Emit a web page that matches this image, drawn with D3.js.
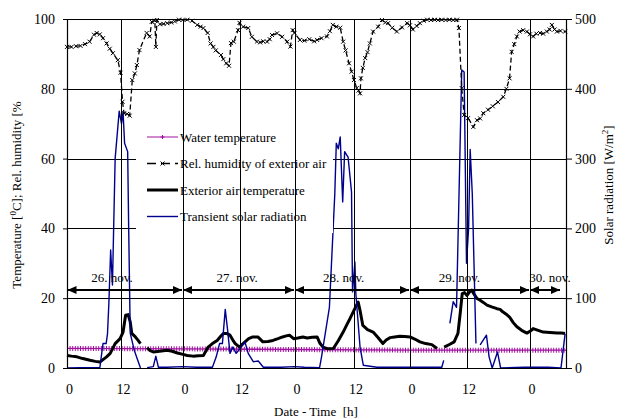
<!DOCTYPE html>
<html>
<head>
<meta charset="utf-8">
<script src="https://cdn.jsdelivr.net/npm/d3@7/dist/d3.min.js"></script>
<style>
  body { margin: 0; background: #fff; }
  svg { display: block; font-family: "Liberation Serif", "Times New Roman", serif; }
</style>
</head>
<body>
<svg class="canvas" width="629" height="419"></svg>
<script>
// ---- data (hours since 26 Nov 00:00) ----
var hourTicks = [0, 12, 24, 36, 48, 60, 72, 84, 96];
var dayNames = ["26. nov.", "27. nov.", "28. nov.", "29. nov.", "30. nov."];
var dayStart = [0, 24, 48, 72, 96];
var dayEnd = [24, 48, 72, 96, 102.8];
var dayLabelAt = [10, 35.5, 58, 82.5, 100.5];
var leftTicks = [0, 20, 40, 60, 80, 100];
var rightTicks = [0, 100, 200, 300, 400, 500];

var waterHours = [0, 24, 48, 72, 96, 104];
var waterTemp  = [5.6, 5.5, 5.3, 5.1, 5.1, 5.1];

var rhHours = [0,1,2,3,4,5,6,6.6,7.3,8,8.8,9.5,10.2,11.3,11.9,12.3,12.6,13.2,13.7,14.2,14.7,15.1,15.6,17,17.6,18,18.6,18.8,19,19.6,20.3,21,21.8,22.5,23.3,
  24,25,26,27.1,27.8,28.4,29.3,29.9,30.5,31,32.1,32.6,33.2,33.8,34.2,34.8,35.7,36,36.8,37.9,38.7,39.8,40.5,41.2,42,42.6,43.1,44.2,45.3,46.4,47.1,47.6,
  48,49.1,50,51,52,52.6,53.5,54.6,55.2,55.8,56.5,57.3,57.9,58.4,59.1,59.6,60.1,60.7,61.1,61.4,61.6,62,62.5,63,63.5,64.2,65.3,66.1,66.8,67.4,68.3,69.3,70.4,71.5,
  72.1,72.7,73.5,74.2,75,75.7,76.5,77.3,78,78.8,79.6,80.4,81.2,82,82.4,83,83.5,84.3,85.3,86,86.6,87.2,88.1,89,90,91,91.6,92.2,92.6,93.1,93.6,94.1,94.8,95.5,
  96.1,96.8,97.5,98.3,99,99.8,100.4,100.9,101.5,102,102.8,103.8];
var rhValues = [92,92,92.2,92.3,92.8,93.5,95.5,96,95.6,94.5,93,91.5,90.2,88.2,84.6,76.3,73,72.8,72.3,82.5,84.4,86.8,91.1,96,95,99.2,99.5,92,99.7,98.5,98.6,98.8,99,99.3,99.8,
  99.7,99.8,99.5,98.3,97.8,97.4,96,93,92,91,89.7,88.5,87.3,86.6,93.1,93.5,96.8,98.9,97.8,97.4,94.9,93.5,93.3,93.6,93.5,94.2,95.4,95.9,94.9,93.5,92.1,96.8,
  96,94,93.8,94.2,93.6,94,94.5,95,96.5,98.3,97.8,97.5,93.5,91,87.3,84.9,82.5,80.2,79.5,78.7,83,86,88.8,90.5,93,96.4,97.8,99.7,99,98.8,97.5,96.4,97.6,98.8,
  98.2,97,98,98.8,99.5,99.8,99.7,99.8,99.7,99.8,99.7,99.8,99.7,99.8,97.4,80.2,72.5,71.6,69.1,71,71.5,73,74,75,76.2,77.7,80,83,90.6,92.8,95,96.4,96.8,96.4,
  95.6,95,95.8,96,95.8,96.4,97,98.3,97,96.4,96.6,96.4];

var airHours = [0,1,2.2,3.5,5.1,6.3,7.3,8,8.8,9.6,10.7,11.8,12.4,12.9,13.4,13.8,14.1,14.8,15.3,15.8,16.5,17.1,17.7,18.3,19.5,21,22,23,
  24.1,25,26.2,27.3,28.4,29.4,30.3,31.3,32,32.6,33.3,34,34.6,35.1,36,36.6,37.2,38,38.9,40,41.1,42.2,43.3,44.4,45.4,46.2,46.9,47.8,
  48.7,49.7,50.6,51.6,52.6,53.2,53.8,54.8,55.9,56.9,57.9,58.6,59.3,60.1,61,61.4,62,63,64.2,65.2,66.3,67,67.8,68.8,69.9,71,
  72.1,73.1,74.2,75.4,76.7,77.8,78.5,79.3,80.5,81.4,82.2,82.7,83.1,83.6,84.1,84.6,85,85.5,86,86.6,87.2,87.9,88.8,89.8,90.4,90.9,91.5,92.2,92.9,93.6,94.5,95.5,
  96.2,96.8,97.9,99,100.5,102.1,103,103.8];
var airTemp = [3.6,3.4,3.2,2.7,2.2,1.9,1.7,2.4,3.2,4.2,7,8.4,10.3,15.1,15.3,13.2,9.9,8.9,8,7,null,5.8,5,4.6,4.8,5.1,4.8,4.3,
  3.9,3.6,3.4,3.5,3.6,6,7,7.9,9,9.9,9.9,9.4,8,7,6,6.8,7.5,8.4,8.9,8.9,7.5,7.6,7.9,8.4,8.9,9.2,9.4,8.4,
  8.6,8.9,8.6,8.8,8.9,7,6,5.5,5.6,7.8,10.3,12.3,14.2,16.5,18.9,16.5,12.2,11,10.3,8.8,7,8,8.7,8.9,9.1,9,
  8.9,8.3,7.5,7,6.7,5.6,null,6,6.8,7.5,9.9,16,21.3,21.6,20.8,21.8,22.3,21,19.9,19.4,18.8,18,17.5,17,16.8,16.1,15.5,14.6,13,11.8,10.8,10,
  10.6,11.3,10.8,10.3,10.2,10,10,9.9];

var solarHours = [0,3,6,7.3,8,8.7,9,9.3,9.7,10.1,10.7,11.6,12.1,12.4,12.7,13.3,13.5,13.8,14.6,15.8,16.5,17.1,18.3,18.8,19.3,21,24,27,
  30.3,31.1,31.8,32.4,33,33.5,34,34.6,35.3,36.1,37.2,37.9,39,40.1,41.2,45,48,50,53.1,53.5,55.1,56.2,56.5,56.9,57.3,57.8,58.2,58.9,59.6,59.8,60.3,60.5,61.4,62.1,
  65,70,75,78.8,79.2,79.8,80.5,81.2,81.9,83,83.5,84,84.4,84.7,85.1,85.8,86.2,86.6,87.8,88.3,88.9,89.9,90.5,95,100,102.9,103.8];
var solarValues = [0,0.5,0.5,0.5,35,35,49,92,169,119,300,368,350,367,322,310,200,50,25,0,null,0.5,2,17,1,1,2,1,
  1,16,35,35,84,54,21,30,21,28,37,21,9,10,1,1,2,1,0.5,16,87,250,322,314,331,238,310,302,252,109,152,107,30,4,
  1,1,1,1,11,null,64,95,87,427,424,150,200,313,250,35,null,33,47,16,0,23,0,1,1,0,49];

// ---- layout ----
var plotTop = 19, plotBottom = 368;
var gridPx = [67, 121, 182.5, 239.5, 294.5, 353.5, 409.5, 466.5, 529.5, 566];

var svg = d3.select(".canvas");

var x = d3.scaleLinear()
  .domain(hourTicks.concat([104]))
  .range(gridPx);
var y = d3.scaleLinear().domain([0, 100]).range([plotBottom, plotTop]);
var yR = d3.scaleLinear().domain([0, 500]).range([plotBottom, plotTop]);

var toPts = (hs, vs) => hs.map((h, i) => ({h: h, v: vs[i]}));

// horizontal grid lines
svg.append("g").selectAll("line")
  .data(leftTicks.slice(1))
  .enter().append("line")
    .attr("x1", x(0)).attr("x2", x(104))
    .attr("y1", d => Math.round(y(d)) + 0.5).attr("y2", d => Math.round(y(d)) + 0.5)
    .attr("stroke", "#000").attr("stroke-width", 1);

// series
var lineL = d3.line().defined(d => d.v != null).x(d => x(d.h)).y(d => y(d.v));
var lineR = d3.line().defined(d => d.v != null).x(d => x(d.h)).y(d => yR(d.v));

var water = toPts(waterHours, waterTemp);
svg.append("path").datum(water).attr("d", lineL)
  .attr("fill", "none").attr("stroke", "#a0109f").attr("stroke-width", 1.3);
svg.append("path").datum(water).attr("d", lineL)
  .attr("fill", "none").attr("stroke", "#a0109f").attr("stroke-width", 5)
  .attr("stroke-dasharray", "1,1.6");

svg.append("path").datum(toPts(airHours, airTemp)).attr("d", lineL)
  .attr("fill", "none").attr("stroke", "#000").attr("stroke-width", 3)
  .attr("stroke-linejoin", "round");

svg.append("path").datum(toPts(solarHours, solarValues)).attr("d", lineR)
  .attr("fill", "none").attr("stroke", "#00008f").attr("stroke-width", 1.4)
  .attr("stroke-linejoin", "round");

var rh = toPts(rhHours, rhValues);
svg.append("path").datum(rh).attr("d", lineL)
  .attr("fill", "none").attr("stroke", "#000").attr("stroke-width", 1.3)
  .attr("stroke-dasharray", "5,3");
var cross = "M-2,-2L2,2M-2,2L2,-2";
svg.append("g").selectAll("path")
  .data(rh)
  .enter().append("path")
    .attr("transform", d => "translate(" + x(d.h) + "," + y(d.v) + ")")
    .attr("d", cross)
    .attr("stroke", "#000").attr("stroke-width", 1);

// legend
var legX = 136, legY = 122;
var leg = svg.append("g");
leg.append("rect").attr("x", legX).attr("y", legY).attr("width", 197).attr("height", 111).attr("fill", "#fff");
var legItems = ["Water temperature", "Rel. humidity of exterior air", "Exterior air temperature", "Transient solar radiation"];
legItems.forEach((t, i) => {
  var cy = legY + 15 + i * 26.5;
  var g = leg.append("g");
  var ln = g.append("line").attr("x1", legX + 11).attr("x2", legX + 42).attr("y1", cy).attr("y2", cy);
  if (i == 0) {
    ln.attr("stroke", "#a0109f").attr("stroke-width", 1);
    g.append("path").attr("d", "M-2,0L2,0M0,-2L0,2").attr("transform", "translate(" + (legX + 26.5) + "," + cy + ")")
      .attr("stroke", "#a0109f").attr("stroke-width", 1);
  } else if (i == 1) {
    ln.attr("stroke", "#000").attr("stroke-width", 1.5).attr("stroke-dasharray", "9,5");
    g.append("path").attr("d", cross).attr("transform", "translate(" + (legX + 26.5) + "," + cy + ")")
      .attr("stroke", "#000").attr("stroke-width", 1);
  } else if (i == 2) {
    ln.attr("stroke", "#000").attr("stroke-width", 3);
  } else {
    ln.attr("stroke", "#00008f").attr("stroke-width", 1.4);
  }
  g.append("text").attr("x", legX + 44).attr("y", cy).attr("dy", "0.35em")
    .attr("font-size", 13).text(t);
});

// vertical day/time lines
svg.append("g").selectAll("line")
  .data(hourTicks.slice(1))
  .enter().append("line")
    .attr("x1", d => Math.round(x(d)) + 0.5).attr("x2", d => Math.round(x(d)) + 0.5)
    .attr("y1", y(100)).attr("y2", y(0))
    .attr("stroke", "#000").attr("stroke-width", 1);

// day arrows
svg.append("defs").append("marker")
  .attr("id", "arr").attr("viewBox", "0 0 10 10").attr("refX", 10).attr("refY", 5)
  .attr("markerWidth", 9).attr("markerHeight", 8).attr("markerUnits", "userSpaceOnUse")
  .attr("preserveAspectRatio", "none").attr("orient", "auto-start-reverse")
  .append("path").attr("d", "M0,0L10,5L0,10Z").attr("fill", "#000");

var arrowY = 290;
svg.append("g").selectAll("line")
  .data(dayStart)
  .enter().append("line")
    .attr("x1", d => x(d) + 0.5).attr("x2", (d, i) => x(dayEnd[i]) - 0.5)
    .attr("y1", arrowY).attr("y2", arrowY)
    .attr("stroke", "#000").attr("stroke-width", 2)
    .attr("marker-start", "url(#arr)").attr("marker-end", "url(#arr)");

svg.append("g").selectAll("text")
  .data(dayNames)
  .enter().append("text")
    .attr("x", (d, i) => x(dayLabelAt[i]))
    .attr("y", arrowY - 8)
    .attr("text-anchor", "middle").attr("font-size", 13)
    .text(d => d);

// axes
var axL = svg.append("g").attr("transform", "translate(" + x(0) + ",0)")
  .call(d3.axisLeft(y).tickValues(leftTicks).tickSize(4).tickPadding(8).tickSizeOuter(0));
var axR = svg.append("g").attr("transform", "translate(" + x(104) + ",0)")
  .call(d3.axisRight(yR).tickValues(rightTicks).tickSize(6).tickPadding(3).tickSizeOuter(0));
var axB = svg.append("g").attr("transform", "translate(0," + plotBottom + ")")
  .call(d3.axisBottom(x).tickValues(hourTicks).tickSize(0).tickPadding(16).tickSizeOuter(0)
    .tickFormat(d => d % 24));
[axL, axR, axB].forEach(a => {
  a.selectAll("text").attr("font-family", "Liberation Serif").attr("font-size", 14).attr("fill", "#000");
  a.select(".domain").attr("stroke", "#000").attr("stroke-width", 1.2);
  a.selectAll(".tick line").attr("stroke", "#000");
});
axB.selectAll("text").attr("dx", 2);

// axis titles
var tl = svg.append("text").attr("transform", "translate(21,195) rotate(-90)")
  .attr("text-anchor", "middle").attr("font-size", 13);
tl.append("tspan").text("Temperature [");
tl.append("tspan").attr("dy", -5).attr("font-size", 9).text("0");
tl.append("tspan").attr("dy", 5).text("C]; Rel. humidity [%");

var tr = svg.append("text").attr("transform", "translate(613,185) rotate(-90)")
  .attr("text-anchor", "middle").attr("font-size", 13);
tr.append("tspan").text("Solar radiation [W/m");
tr.append("tspan").attr("dy", -5).attr("font-size", 9).text("2");
tr.append("tspan").attr("dy", 5).text("]");

svg.append("text").attr("x", 316).attr("y", 416)
  .attr("text-anchor", "middle").attr("font-size", 13)
  .text("Date - Time\u00a0\u00a0[h]");
</script>
</body>
</html>
